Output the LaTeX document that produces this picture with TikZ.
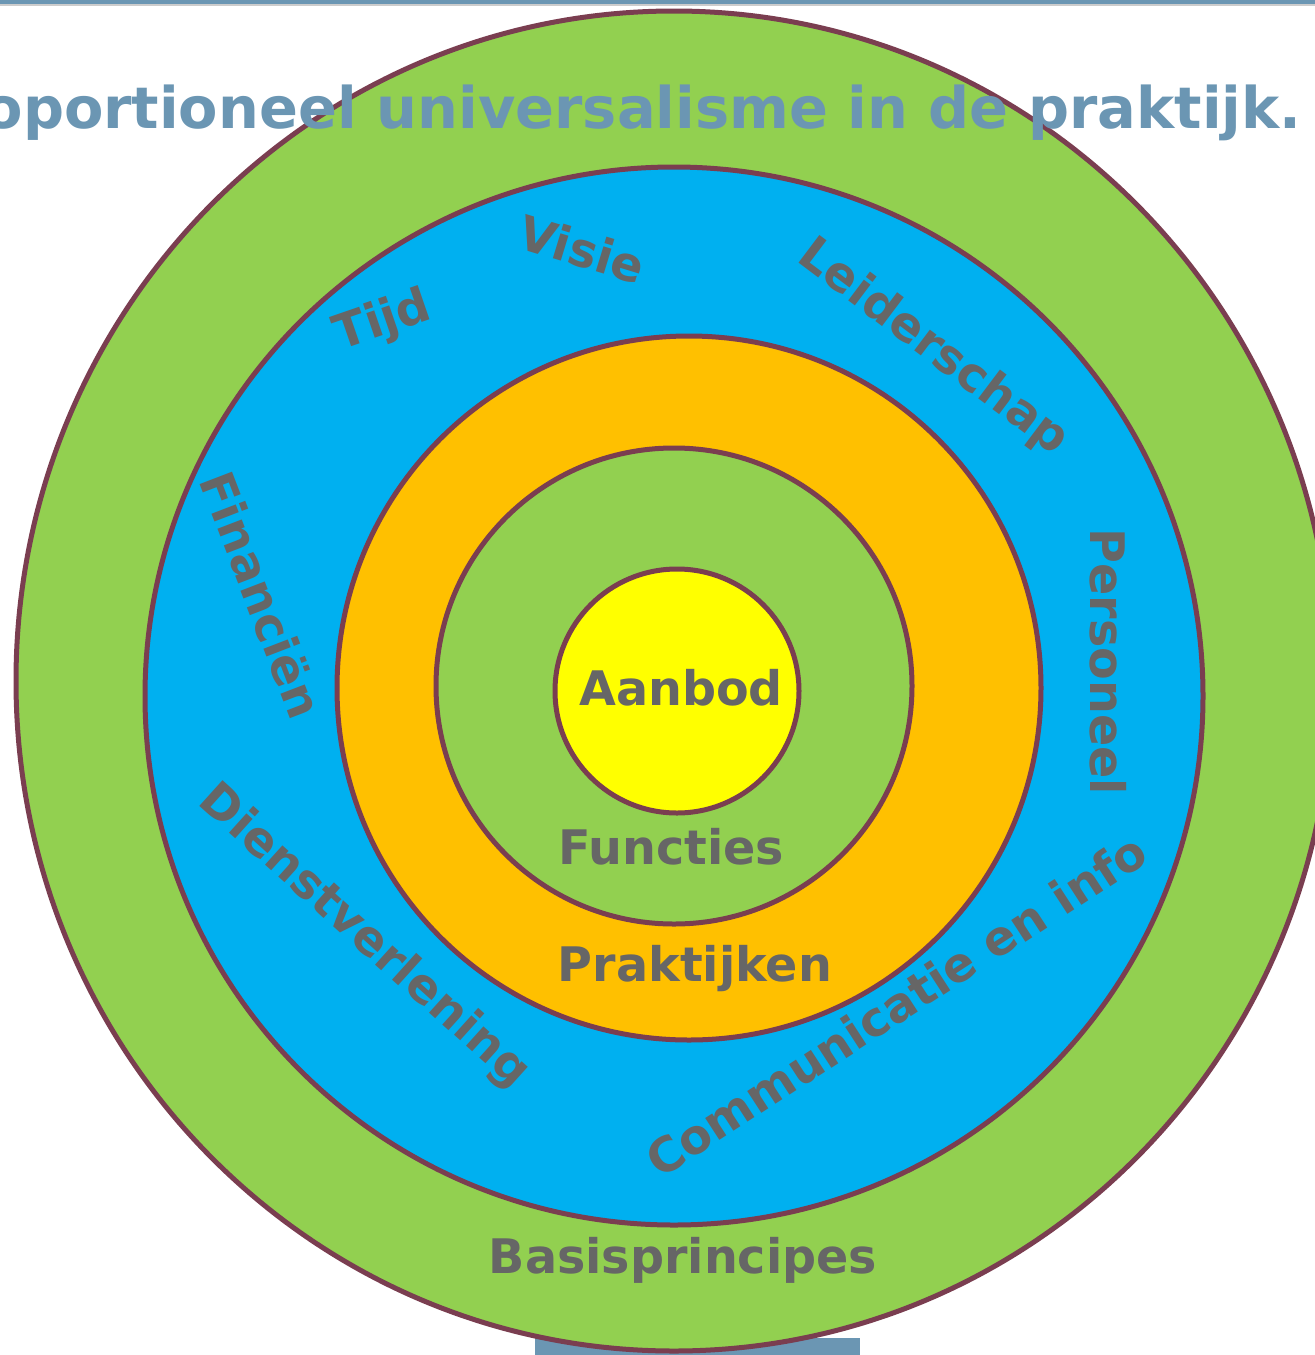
\documentclass[tikz,border=0pt]{standalone}
\usepackage{fontspec}
\setmainfont{DejaVu Sans}
\definecolor{ringgreen}{HTML}{92D050}
\definecolor{ringblue}{HTML}{00B0F0}
\definecolor{ringorange}{HTML}{FFC000}
\definecolor{ringyellow}{HTML}{FFFF00}
\definecolor{ringedge}{HTML}{7A3E50}
\definecolor{titleblue}{HTML}{6B96B3}
\definecolor{labelgray}{HTML}{666666}
\tikzset{
  ring/.style={draw=ringedge, line width=2.5pt},
  lbl/.style={text=labelgray, inner sep=0pt, font=\fontsize{23.8}{28}\selectfont\bfseries},
}
\begin{document}
\begin{tikzpicture}[x=0.5pt, y=-0.5pt]
  \useasboundingbox (0,0) rectangle (1315,1355);

  % band at the top and the box below
  \fill[titleblue] (0,0) rectangle (1315,4);
  \draw[gray!40, line width=0.6pt] (0,5) -- (1315,5);
  \fill[titleblue] (535,1338) rectangle (860,1360);

  % the rings, outside in
  \filldraw[ring, fill=ringgreen] (674,681) ellipse [x radius=658, y radius=670];
  \filldraw[ring, fill=ringblue] (674,696) circle [radius=529];
  \filldraw[ring, fill=ringorange] (689,688) circle [radius=352];
  \filldraw[ring, fill=ringgreen] (674,686) circle [radius=238];
  \filldraw[ring, fill=ringyellow] (677,691) circle [radius=122];

  % centre labels
  \node[lbl, anchor=base] (aanbod) at (681,705) {Aanbod};
  \node[lbl, anchor=base] (functies) at (671,864) {Functies};
  \node[lbl, anchor=base] (praktijken) at (695,981) {Praktijken};
  \node[lbl, anchor=base] (basis) at (683,1273) {Basisprincipes};

  % labels round the blue ring
  \node[lbl, rotate=-17] (visie) at (582,249) {Visie};
  \node[lbl, rotate=19] (tijd) at (383,322) {Tijd};
  \node[lbl, rotate=-37] (leider) at (933,348) {Leiderschap};
  \node[lbl, rotate=-69] (fin) at (262,595) {Financiën};
  \node[lbl, rotate=-90] (pers) at (1108,662) {Personeel};
  \node[lbl, rotate=-42] (dienst) at (364,937) {Dienstverlening};
  \node[lbl, rotate=33] (comm) at (896,1005) {Communicatie en info};

  %\node at (657,1348) {};
  \node[text=titleblue, inner sep=0pt, anchor=base east,
        font=\fontsize{28.7}{33}\selectfont\bfseries] (titel) at (1302,128)
        {Proportioneel universalisme in de praktijk.};
\end{tikzpicture}
\end{document}
